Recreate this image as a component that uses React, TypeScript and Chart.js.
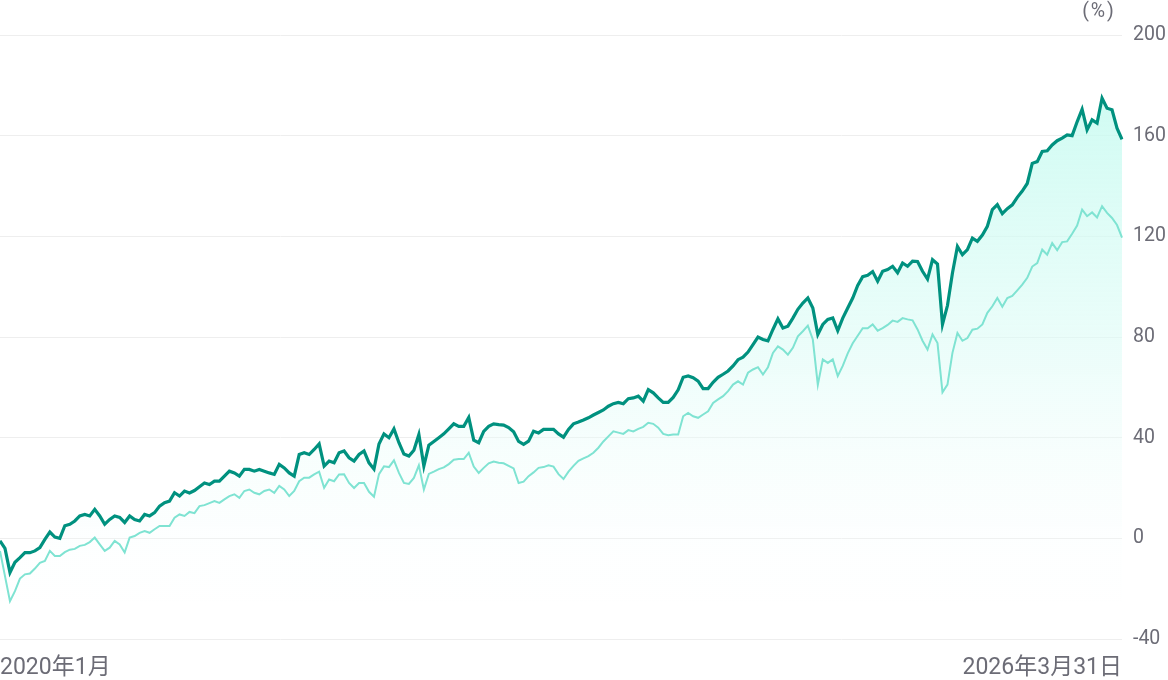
import { useEffect, useRef } from 'react';
import { Chart, registerables } from 'chart.js';

Chart.register(...registerables);

// Period covered by the chart
const startDate = '2020-01-01';
const endDate = '2026-03-31';
const xTickLabels = ['2020年1月', '2026年3月31日'];
const yMin = -40;
const yMax = 200;
const yStep = 40;
const unitLabel = '(%)';

// Cumulative return (%) of the fund (dark line)
const fundSeries = [
  -1, -4, -13.6, -9.5, -7.7, -5.7, -5.7, -5, -3.7, -0.4,
  2.5, 0.5, 0, 5, 5.6, 6.9, 8.9, 9.5, 8.9, 11.5,
  8.9, 5.6, 7.5, 8.9, 8.3, 6.3, 8.9, 7.5, 6.9, 9.5,
  8.9, 10.2, 12.8, 14.2, 14.8, 18.1, 16.8, 18.8, 18, 19,
  20.5, 22, 21.4, 22.7, 22.7, 24.7, 26.7, 26, 24.7, 27.4,
  27.4, 26.7, 27.4, 26.7, 26, 25.4, 29.4, 28, 26, 24.7,
  33.3, 34, 33.3, 35.3, 37.5, 28.7, 30.7, 30, 34, 34.7,
  32, 30.7, 33.3, 34.7, 30, 27.5, 37.5, 41.5, 40, 43.5,
  38, 33.5, 32.7, 35, 41.3, 28.7, 37, 38.5, 40, 41.5,
  43.5, 45.5, 44.5, 44.5, 48, 39, 38, 42.5, 44.5, 45.5,
  45.2, 45, 44, 42.3, 38.5, 37.3, 38.6, 42.6, 41.9, 43.3,
  43.3, 43.3, 41.5, 40.2, 43.3, 45.5, 46.2, 47, 47.9, 49,
  50, 51, 52.5, 53.5, 54, 53.5, 55.5, 55.8, 56.5, 54.5,
  59.1, 57.8, 55.8, 54, 54, 56, 59, 64, 64.5, 63.8,
  62.5, 59.5, 59.5, 62, 64, 65.2, 66.5, 68.5, 71, 72,
  74, 77, 80, 79, 78.5, 83, 87.2, 83.6, 84.3, 87.5,
  91, 93.5, 95.5, 91.5, 81, 85, 87, 87.6, 82.5, 87.5,
  91.5, 95.5, 100.5, 104, 104.5, 106, 102.2, 106.1, 106.8, 108.1,
  105.5, 109.4, 108.1, 110.1, 110, 106.1, 103, 110.7, 109, 85,
  92.5, 105.4, 116, 112.7, 114.7, 119.3, 118, 120.5, 124, 130.6,
  132.6, 129, 131, 132.5, 135.5, 138, 141, 149, 149.7, 153.7,
  154, 156.3, 158, 159, 160.3, 160, 165.5, 170.5, 162.3, 166.3,
  165, 174.9, 170.9, 170.3, 163, 158.5,
];

// Cumulative return (%) of the benchmark (light line)
const benchmarkSeries = [
  -5, -15, -25, -21, -16, -14.3, -14, -12, -9.7, -9,
  -5, -7, -7, -5.5, -4.5, -4.2, -3, -2.6, -1.5, 0.3,
  -2.4, -5, -3.7, -1, -2.4, -5.6, 0.3, 0.9, 2.2, 2.9,
  2.2, 3.6, 4.9, 4.9, 4.9, 8.2, 9.5, 8.9, 10.5, 10,
  12.8, 13.2, 14, 14.8, 14.1, 15.5, 16.8, 17.5, 16.1, 18.8,
  19.4, 18.1, 17.5, 18.8, 19.4, 18.1, 20.8, 19.4, 16.8, 18.8,
  22.7, 24.1, 24.1, 25.4, 26.5, 20.1, 23.4, 22.7, 25.4, 25.5,
  22, 20, 22, 22, 18.5, 16.5, 25.5, 28.6, 28.3, 31,
  26, 22, 21.6, 24, 29, 19.4, 25.6, 26.5, 27.5, 28.2,
  29.5, 31.2, 31.5, 31.5, 34, 28.5, 26, 28, 29.8, 30.5,
  30, 29.8, 28.8, 27.8, 22, 22.5, 24.7, 26.2, 28, 28.3,
  29, 28.5, 25.5, 23.6, 26.5, 28.8, 30.8, 31.8, 32.7, 34,
  36, 38.5, 40.5, 42.5, 42, 41.5, 43, 42.5, 43.5, 44.3,
  45.9, 45.5, 44, 41.5, 41, 41.3, 41.3, 48.5, 49.8, 48.5,
  47.9, 49.2, 50.5, 53.8, 55.2, 56.5, 58.5, 61.1, 62.4, 61.1,
  65.8, 67.1, 68, 65.1, 68, 73.7, 76.3, 75, 73, 75.7,
  80.3, 82.3, 84.5, 79, 61, 71.1, 69.7, 71.1, 64.5, 68.5,
  73.5, 77.5, 80.5, 83.5, 83.5, 85, 82.5, 83.5, 84.8, 86.5,
  86, 87.5, 87, 86.6, 83, 78.5, 75, 81, 77.6, 58,
  61.1, 73.7, 81.6, 78.5, 79.6, 82.9, 83.3, 85, 89.6, 92.2,
  95.5, 92, 95.5, 96.3, 98.5, 100.8, 103.5, 108, 109.4, 114.7,
  112.7, 117.3, 114.5, 117.7, 118, 121, 124.3, 130.6, 128, 129.5,
  127.5, 132, 129.3, 127.3, 124.5, 119.5,
];

const FONT = 'Roboto, "Noto Sans CJK JP", "Noto Sans", sans-serif';
const TICK_COLOR = '#6c6c76';

function makeDateLabels(n: number): string[] {
  const s = new Date(startDate + 'T00:00:00Z').getTime();
  const e = new Date(endDate + 'T00:00:00Z').getTime();
  const out: string[] = [];
  for (let i = 0; i < n; i++) {
    const t = new Date(s + ((e - s) * i) / (n - 1));
    out.push(t.toISOString().slice(0, 10));
  }
  return out;
}

const unitPlugin = {
  id: 'unitLabel',
  afterDraw(chart: any) {
    const { ctx, chartArea } = chart;
    ctx.save();
    ctx.font = `19.5px ${FONT}`;
    ctx.fillStyle = TICK_COLOR;
    ctx.textAlign = 'center';
    ctx.textBaseline = 'middle';
    try {
      (ctx as any).letterSpacing = '2px';
    } catch (e) {
      /* ignore */
    }
    ctx.fillText(unitLabel, chartArea.right - 23, 12);
    ctx.restore();
  },
};

export default function App() {
  const ref = useRef<HTMLCanvasElement | null>(null);

  useEffect(() => {
    document.body.style.margin = '0';
    const labels = makeDateLabels(fundSeries.length);
    const chart = new Chart(ref.current as HTMLCanvasElement, {
      type: 'line',
      data: {
        labels,
        datasets: [
          {
            label: 'fund',
            data: fundSeries,
            borderColor: '#00917F',
            borderWidth: 3.2,
            pointRadius: 0,
            tension: 0,
            fill: 'start',
            backgroundColor: (c: any) => {
              const { chart: ch } = c;
              const area = ch.chartArea;
              if (!area) return 'rgba(200,250,240,0.5)';
              const g = ch.ctx.createLinearGradient(0, area.top, 0, area.bottom);
              g.addColorStop(0, 'rgba(190,250,238,0.85)');
              g.addColorStop(0.5, 'rgba(220,252,246,0.6)');
              g.addColorStop(1, 'rgba(255,255,255,0)');
              return g;
            },
          },
          {
            label: 'benchmark',
            data: benchmarkSeries,
            borderColor: '#7FE3D2',
            borderWidth: 2,
            pointRadius: 0,
            tension: 0,
            fill: false,
          },
        ],
      },
      options: {
        animation: false,
        responsive: false,
        maintainAspectRatio: false,
        layout: { padding: { top: 35, left: 0, right: 0, bottom: 0 } },
        plugins: {
          legend: { display: false },
          tooltip: { enabled: false },
          filler: { drawTime: 'beforeDatasetsDraw' },
        } as any,
        scales: {
          x: {
            type: 'category',
            grid: {
              display: true,
              drawOnChartArea: false,
              drawTicks: true,
              tickLength: 15,
              color: 'rgba(0,0,0,0)',
            },
            border: { display: false },
            ticks: {
              autoSkip: false,
              maxRotation: 0,
              align: 'inner',
              padding: 0,
              color: TICK_COLOR,
              font: { family: FONT, size: 23 },
              callback: (_v: any, i: number) => (i === 0 ? xTickLabels[0] : xTickLabels[1]),
            },
            afterBuildTicks: (s: any) => {
              const t = s.ticks;
              s.ticks = [t[0], t[t.length - 1]];
            },
            afterFit: (s: any) => {
              s.height = 41;
            },
          },
          y: {
            position: 'right',
            min: yMin,
            max: yMax,
            ticks: {
              stepSize: yStep,
              padding: 11,
              color: TICK_COLOR,
              font: { family: FONT, size: 19.5 },
            },
            grid: { color: '#EEEEEE', drawTicks: false, lineWidth: 1 },
            border: { display: false },
            afterFit: (s: any) => {
              s.width = 46;
            },
          },
        },
      } as any,
      plugins: [unitPlugin],
    });
    return () => chart.destroy();
  }, []);

  return (
    <div style={{ width: 1168, height: 680 }}>
      <canvas ref={ref} width={1168} height={680} style={{ display: 'block' }} />
    </div>
  );
}
